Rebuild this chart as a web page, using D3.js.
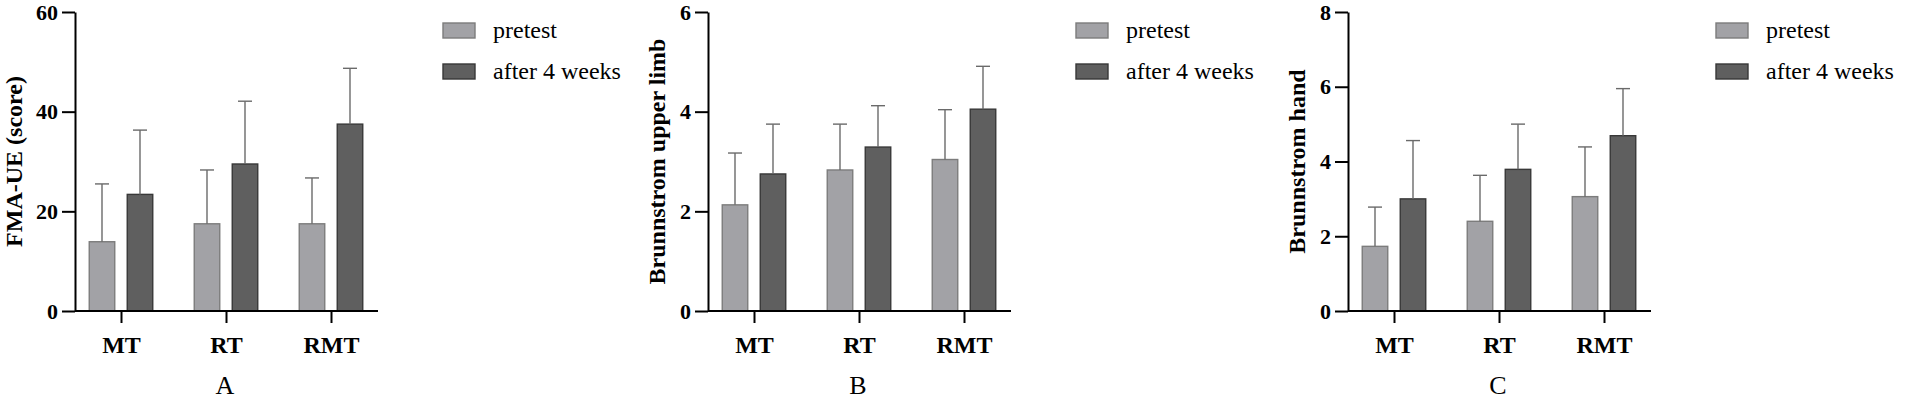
<!DOCTYPE html>
<html>
<head>
<meta charset="utf-8">
<script src="https://cdn.jsdelivr.net/npm/d3@7"></script>
<style>
  body { margin: 0; background: #fff; }
  svg text { font-family: "Liberation Serif", "Times New Roman", serif; }
</style>
</head>
<body>
<div id="chart"></div>
<script>
// groups and series
const groups = ["MT", "RT", "RMT"];
const seriesNames = ["pretest", "after 4 weeks"];

// A: FMA-UE
const fmaPre = [13.9, 17.5, 17.5];
const fmaPreSd = [11.6, 10.8, 9.2];
const fmaPost = [23.4, 29.5, 37.5];
const fmaPostSd = [12.9, 12.6, 11.2];
const fmaTicks = [0, 20, 40, 60];

// B: Brunnstrom upper limb
const limbPre = [2.13, 2.83, 3.04];
const limbPreSd = [1.04, 0.92, 1.00];
const limbPost = [2.75, 3.29, 4.05];
const limbPostSd = [1.00, 0.83, 0.86];
const limbTicks = [0, 2, 4, 6];

// C: Brunnstrom hand
const handPre = [1.73, 2.40, 3.06];
const handPreSd = [1.05, 1.23, 1.33];
const handPost = [3.00, 3.79, 4.69];
const handPostSd = [1.56, 1.21, 1.26];
const handTicks = [0, 2, 4, 6, 8];

const panels = [
  { letter: "A", ylabel: "FMA-UE (score)", ymax: 60, ticks: fmaTicks,
    pre: fmaPre, preSd: fmaPreSd, post: fmaPost, postSd: fmaPostSd },
  { letter: "B", ylabel: "Brunnstrom upper limb", ymax: 6, ticks: limbTicks,
    pre: limbPre, preSd: limbPreSd, post: limbPost, postSd: limbPostSd },
  { letter: "C", ylabel: "Brunnstrom hand", ymax: 8, ticks: handTicks,
    pre: handPre, preSd: handPreSd, post: handPost, postSd: handPostSd }
];

// layout
const W = 1907, H = 399;
const originX = [75, 708, 1348];
const labelOffset = [-61, -51, -51];
const yTop = 12, yZero = 311;
const fills = ["#a2a2a6", "#5f5f5f"];
const strokes = ["#7c7c7c", "#383838"];
const barW = 25.5, barShift = 19;

const svg = d3.select("#chart").append("svg")
  .attr("width", W)
  .attr("height", H);

panels.forEach((p, pi) => {
  const ox = originX[pi];
  const g = svg.append("g").attr("transform", "translate(" + ox + ",0)");

  const x = d3.scalePoint().domain(groups).range([46, 256]);
  const y = d3.scaleLinear().domain([0, p.ymax]).range([yZero, yTop]);
  const sub = d3.scaleOrdinal().domain(seriesNames).range([-barShift, barShift]);

  const rows = [];
  groups.forEach((grp, i) => {
    rows.push({ grp: grp, s: 0, v: p.pre[i], sd: p.preSd[i] });
    rows.push({ grp: grp, s: 1, v: p.post[i], sd: p.postSd[i] });
  });

  // bars
  g.selectAll("rect.bar")
    .data(rows)
    .enter()
    .append("rect")
      .attr("class", "bar")
      .attr("x", d => x(d.grp) + sub(seriesNames[d.s]) - barW / 2)
      .attr("y", d => y(d.v))
      .attr("width", barW)
      .attr("height", d => yZero - y(d.v))
      .attr("fill", d => fills[d.s])
      .attr("stroke", d => strokes[d.s])
      .attr("stroke-width", 1.4);

  // error bars (upper only)
  const err = g.selectAll("g.err")
    .data(rows)
    .enter()
    .append("g")
      .attr("class", "err")
      .attr("stroke", "#6a6a6a")
      .attr("stroke-width", 1.4);
  err.append("line")
    .attr("x1", d => x(d.grp) + sub(seriesNames[d.s]))
    .attr("x2", d => x(d.grp) + sub(seriesNames[d.s]))
    .attr("y1", d => y(d.v))
    .attr("y2", d => y(d.v + d.sd));
  err.append("line")
    .attr("x1", d => x(d.grp) + sub(seriesNames[d.s]) - 7)
    .attr("x2", d => x(d.grp) + sub(seriesNames[d.s]) + 7)
    .attr("y1", d => y(d.v + d.sd))
    .attr("y2", d => y(d.v + d.sd));

  // y axis
  const yAxis = g.append("g")
    .call(d3.axisLeft(y).tickValues(p.ticks).tickFormat(d3.format("d"))
      .tickSize(13).tickPadding(4).tickSizeOuter(0));
  yAxis.select(".domain").attr("stroke", "#000").attr("stroke-width", 2);
  yAxis.selectAll(".tick line").attr("stroke", "#000").attr("stroke-width", 2);
  yAxis.selectAll(".tick text")
    .attr("fill", "#000")
    .style("font-family", "Liberation Serif")
    .style("font-size", "22px")
    .style("font-weight", "bold");

  // x axis
  const xAxis = g.append("g")
    .attr("transform", "translate(0," + yZero + ")")
    .call(d3.axisBottom(x).tickSize(12).tickPadding(13).tickSizeOuter(0));
  xAxis.select(".domain").attr("d", "M0,0H303").attr("stroke", "#000").attr("stroke-width", 2);
  xAxis.selectAll(".tick line").attr("stroke", "#000").attr("stroke-width", 2);
  xAxis.selectAll(".tick text")
    .attr("fill", "#000")
    .style("font-family", "Liberation Serif")
    .style("font-size", "24px")
    .style("font-weight", "bold");

  // y label
  g.append("text")
    .attr("transform", "translate(" + labelOffset[pi] + "," + (yTop + yZero) / 2 + ") rotate(-90)")
    .attr("text-anchor", "middle")
    .attr("dominant-baseline", "central")
    .style("font-size", "24px")
    .style("font-weight", "bold")
    .attr("fill", "#000")
    .text(p.ylabel);

  // panel letter
  g.append("text")
    .attr("x", 150)
    .attr("y", 394)
    .attr("text-anchor", "middle")
    .style("font-size", "26px")
    .attr("fill", "#000")
    .text(p.letter);

  // legend
  const leg = g.append("g").attr("transform", "translate(368,0)");
  seriesNames.forEach((name, si) => {
    leg.append("rect")
      .attr("x", 0)
      .attr("y", 23 + si * 41)
      .attr("width", 32)
      .attr("height", 15)
      .attr("fill", fills[si])
      .attr("stroke", strokes[si])
      .attr("stroke-width", 1.4);
    leg.append("text")
      .attr("x", 50)
      .attr("y", 38 + si * 41)
      .style("font-size", "24px")
      .attr("fill", "#000")
      .text(name);
  });
});
</script>
</body>
</html>
